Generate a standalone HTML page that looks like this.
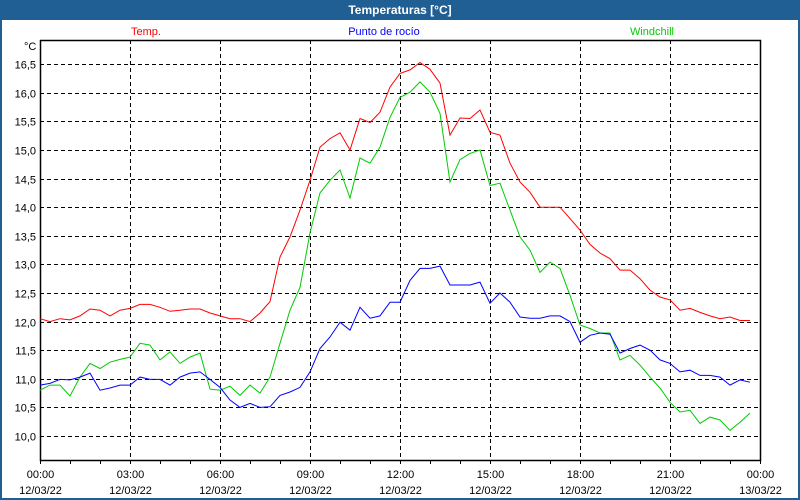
<!DOCTYPE html>
<html><head><meta charset="utf-8"><style>
body{margin:0;background:#fff;}
#wrap{position:relative;width:800px;height:500px;overflow:hidden;font-family:"Liberation Sans",sans-serif;}
svg text{font-family:"Liberation Sans",sans-serif;}
</style></head><body>
<div id="wrap">
<svg id="chart" width="800" height="500" xmlns="http://www.w3.org/2000/svg">
<rect x="0" y="0" width="800" height="500" fill="#1f5f94"/>
<rect x="2" y="20" width="796" height="478" fill="#ffffff"/>
<text x="400" y="14" text-anchor="middle" fill="#fff" font-size="12" font-weight="bold">Temperaturas [°C]</text>
<text x="146" y="35" text-anchor="middle" fill="#ff0000" font-size="11">Temp.</text>
<text x="384" y="35" text-anchor="middle" fill="#0000ff" font-size="11">Punto de rocío</text>
<text x="652" y="35" text-anchor="middle" fill="#00cc00" font-size="11">Windchill</text>
<text x="24" y="50" fill="#000" font-size="11">°C</text>
<g id="grid"></g>
<g id="axes"></g>
<g id="series"></g>
</svg>
</div>
<script>
const tempVals=[12.05,12.0,12.05,12.03,12.1,12.22,12.2,12.1,12.2,12.23,12.3,12.3,12.25,12.18,12.2,12.22,12.22,12.15,12.1,12.05,12.05,12.0,12.15,12.35,13.13,13.48,13.95,14.47,15.05,15.2,15.3,15.0,15.55,15.48,15.66,16.1,16.34,16.4,16.53,16.41,16.17,15.26,15.56,15.55,15.7,15.31,15.26,14.77,14.44,14.26,14.0,14.0,14.0,13.8,13.6,13.35,13.2,13.1,12.9,12.9,12.75,12.55,12.43,12.38,12.2,12.23,12.16,12.1,12.05,12.08,12.02,12.02];
const dewVals=[10.89,10.92,10.99,10.98,11.03,11.1,10.8,10.84,10.89,10.89,11.03,10.99,10.99,10.89,11.03,11.1,11.12,10.99,10.85,10.63,10.5,10.57,10.5,10.51,10.71,10.77,10.85,11.12,11.53,11.73,11.99,11.85,12.25,12.06,12.1,12.34,12.34,12.72,12.93,12.93,12.97,12.64,12.64,12.64,12.69,12.32,12.5,12.34,12.08,12.06,12.06,12.1,12.1,12.0,11.64,11.76,11.8,11.78,11.45,11.53,11.59,11.5,11.33,11.27,11.12,11.15,11.06,11.06,11.03,10.89,10.98,10.94];
const windVals=[10.8,10.89,10.89,10.7,11.03,11.27,11.18,11.29,11.34,11.38,11.62,11.59,11.33,11.47,11.27,11.38,11.45,10.82,10.8,10.87,10.71,10.89,10.75,11.03,11.62,12.2,12.6,13.55,14.25,14.47,14.65,14.16,14.86,14.77,15.05,15.57,15.92,16.01,16.19,16.01,15.64,14.44,14.83,14.94,15.0,14.38,14.42,13.95,13.48,13.25,12.86,13.04,12.93,12.46,11.94,11.88,11.8,11.8,11.33,11.41,11.24,11.03,10.84,10.59,10.42,10.45,10.22,10.33,10.28,10.1,10.24,10.4];
const stepMinutes=20;
const yTicks=[10.0,10.5,11.0,11.5,12.0,12.5,13.0,13.5,14.0,14.5,15.0,15.5,16.0,16.5];
const xTickLabels=["00:00","03:00","06:00","09:00","12:00","15:00","18:00","21:00","00:00"];
const xDateLabels=["12/03/22","12/03/22","12/03/22","12/03/22","12/03/22","12/03/22","12/03/22","12/03/22","13/03/22"];

const NS="http://www.w3.org/2000/svg";
const L=40,R=760,T=40,B=460;
function xScale(min){return L+(min/1440)*(R-L);}
function yScale(v){return 436-(v-10)*57.2;}
function mk(tag,attrs,parent){const e=document.createElementNS(NS,tag);for(const k in attrs)e.setAttribute(k,attrs[k]);parent.appendChild(e);return e;}
const grid=document.getElementById('grid'),axes=document.getElementById('axes'),series=document.getElementById('series');
yTicks.forEach(v=>{
  const y=Math.round(yScale(v))+0.5;
  const g=mk('line',{x1:L,x2:R,y1:y,y2:y,stroke:'#000','stroke-dasharray':'4,3','stroke-width':1},grid);
  
  
  const t=mk('text',{x:36,y:y+4,'text-anchor':'end','font-size':11,fill:'#000'},axes);
  t.textContent=v.toFixed(1).replace('.',',');
  
  
});
xTickLabels.forEach((lab,i)=>{
  const x=Math.round(xScale(i*180))+0.5;
  if(i>0&&i<xTickLabels.length-1){
    const g=mk('line',{x1:x,x2:x,y1:T,y2:B,stroke:'#000','stroke-dasharray':'4,3','stroke-width':1},grid);
    
    
  }
  const t=mk('text',{x:x,y:478,'text-anchor':'middle','font-size':11,fill:'#000'},axes);
  t.textContent=lab;
  
  
  const d=mk('text',{x:x,y:494,'text-anchor':'middle','font-size':11,fill:'#000'},axes);
  d.textContent=xDateLabels[i];
  
  
});
for(let h=0;h<=24;h++){
  const x=Math.round(xScale(h*60))+0.5;
  const tk=mk('line',{x1:x,x2:x,y1:B,y2:B+4,stroke:'#000'},axes);
  
  
}
const frame=mk('path',{d:`M${L+0.5},${T}V${B+0.5}H${R+0.5}V${T+0.5}H${L}`,fill:'none',stroke:'#000','stroke-width':1.5},axes);


function drawLine(vals,color,name){
  const pts=vals.map((v,i)=>xScale(i*stepMinutes).toFixed(1)+','+yScale(v).toFixed(1)).join(' ');
  const p=mk('polyline',{points:pts,fill:'none',stroke:color,'stroke-width':1},series);
  
  
}
drawLine(tempVals,'#ff0000','temp-line');
drawLine(windVals,'#00cc00','windchill-line');
drawLine(dewVals,'#0000ff','dew-point-line');
</script>
</body></html>
